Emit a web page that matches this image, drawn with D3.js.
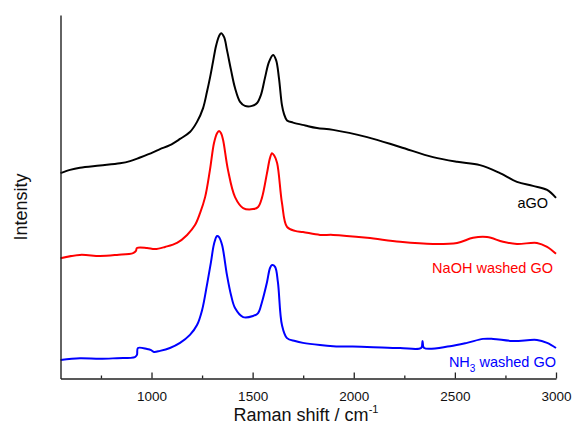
<!DOCTYPE html>
<html>
<head>
<meta charset="utf-8">
<script src="https://cdn.jsdelivr.net/npm/d3@7/dist/d3.min.js"></script>
<style>
  html, body { margin: 0; padding: 0; background: #fff; }
  svg { display: block; font-family: "Liberation Sans", Arial, Helvetica, sans-serif; }
</style>
</head>
<body>
<svg id="chart" width="572" height="433"></svg>
<script>
// Raman shift (cm^-1) and intensity (a.u., offset stacked)
const aGO_shift = [550,597,646,745,844,894,943,1007,1042,1091,1141,1190,1225,1255,1274,1289,1304,1319,1334,1344,1359,1373,1393,1413,1438,1462,1497,1522,1541,1561,1581,1601,1616,1630,1645,1655,1670,1700,1760,1818,1898,2066,2229,2392,2511,2624,2723,2807,2886,2956,3000];
const aGO_int   = [565,574,580,586,592,598,608,622,631,642,659,678,706,744,788,827,871,915,942,950,939,904,849,799,761,750,750,758,780,827,871,890,876,827,752,728,710,704,696,689,684,664,637,609,596,587,565,541,530,519,497];

const NaOH_shift = [550,646,745,829,909,923,928,978,1017,1067,1126,1176,1215,1240,1265,1289,1309,1324,1334,1344,1354,1378,1413,1453,1502,1527,1546,1571,1586,1596,1606,1621,1645,1670,1710,1749,1833,1898,2066,2229,2392,2511,2590,2659,2738,2807,2906,2956,3000];
const NaOH_int   = [331,340,337,340,345,351,359,359,356,362,373,395,422,455,499,574,648,675,681,675,656,574,499,469,466,472,497,565,607,620,614,593,483,417,406,403,395,395,387,376,370,373,387,389,376,370,373,362,343];

const NH3_shift = [550,646,745,829,918,928,933,978,998,1012,1042,1091,1141,1190,1225,1250,1274,1294,1309,1324,1334,1349,1373,1393,1413,1453,1502,1527,1546,1571,1586,1596,1611,1625,1645,1670,1710,1749,1833,1898,2066,2229,2333,2340,2348,2476,2560,2639,2689,2788,2906,2956,3000];
const NH3_int   = [51,56,54,56,59,65,84,81,78,73,76,84,98,120,147,188,257,320,370,392,389,367,285,230,194,169,172,180,210,265,304,312,307,265,147,111,103,98,92,89,87,84,84,103,84,89,98,109,109,103,106,98,84];

const seriesNames  = ["aGO", "NaOH washed GO", "NH3 washed GO"];
const seriesColors = ["#000000", "#ff0000", "#0000ff"];

const xMajorTicks = [1000, 1500, 2000, 2500, 3000];
const xMinorTicks = [750, 1250, 1750, 2250, 2750];

const svg = d3.select("#chart");
const pLeft = 60.5, pRight = 556, pTop = 15, pBottom = 378.5;

const x = d3.scaleLinear().domain([550, 3000]).range([pLeft, pRight]);
const y = d3.scaleLinear().domain([0, 1000]).range([pBottom, pTop]);

const series = [
  { name: seriesNames[0], color: seriesColors[0], xs: aGO_shift, ys: aGO_int },
  { name: seriesNames[1], color: seriesColors[1], xs: NaOH_shift, ys: NaOH_int },
  { name: seriesNames[2], color: seriesColors[2], xs: NH3_shift, ys: NH3_int }
];

const line = d3.line()
  .x(d => x(d[0]))
  .y(d => y(d[1]))
  .curve(d3.curveCatmullRom.alpha(0.5));

svg.append("g").selectAll("path")
  .data(series)
  .join("path")
  .attr("fill", "none")
  .attr("stroke", d => d.color)
  .attr("stroke-width", 2)
  .attr("stroke-linejoin", "round")
  .attr("d", d => line(d.xs.map((v, i) => [v, d.ys[i]])));

// minor ticks
const minorAxis = d3.axisBottom(x).tickValues(xMinorTicks).tickSize(-3).tickSizeOuter(0).tickFormat("");
const gMinor = svg.append("g").attr("transform", `translate(0,${pBottom})`).call(minorAxis);
gMinor.select(".domain").remove();
gMinor.selectAll("line").attr("stroke", "#222").attr("stroke-width", 1.3);

// major axis
const xAxis = d3.axisBottom(x).tickValues(xMajorTicks).tickSize(-6).tickSizeOuter(0).tickPadding(13).tickFormat(d3.format("d"));
const gx = svg.append("g").attr("transform", `translate(0,${pBottom})`).call(xAxis);
gx.select(".domain").attr("stroke", "#222").attr("stroke-width", 1.4);
gx.selectAll("line").attr("stroke", "#222").attr("stroke-width", 1.3);
gx.selectAll("text").attr("font-size", 13.5).attr("fill", "#111").attr("font-family", "Liberation Sans, Arial, sans-serif");

// left axis (line only)
const yAxis = d3.axisLeft(y).tickValues([]).tickSizeOuter(0);
const gy = svg.append("g").attr("transform", `translate(${pLeft},0)`).call(yAxis);
gy.select(".domain").attr("stroke", "#222").attr("stroke-width", 1.4);

// axis titles
const xt = svg.append("text")
  .attr("x", 306).attr("y", 421)
  .attr("text-anchor", "middle")
  .attr("font-size", 18).attr("fill", "#111");
xt.append("tspan").text("Raman shift / cm");
xt.append("tspan").attr("font-size", 11).attr("dy", -8).text("-1");

svg.append("text")
  .attr("transform", "translate(27,207) rotate(-90)")
  .attr("text-anchor", "middle")
  .attr("font-size", 18).attr("fill", "#111")
  .text("Intensity");

// series labels
svg.append("text").attr("x", 548).attr("y", 208).attr("text-anchor", "end")
  .attr("font-size", 14.5).attr("fill", seriesColors[0]).text(seriesNames[0]);
svg.append("text").attr("x", 553).attr("y", 273).attr("text-anchor", "end")
  .attr("font-size", 14.5).attr("fill", seriesColors[1]).text(seriesNames[1]);
const nh = svg.append("text").attr("x", 556).attr("y", 367).attr("text-anchor", "end")
  .attr("font-size", 14.5).attr("fill", seriesColors[2]);
nh.append("tspan").text("NH");
nh.append("tspan").attr("font-size", 10).attr("dy", 5).text("3");
nh.append("tspan").attr("dy", -5).text(" washed GO");
</script>
</body>
</html>
